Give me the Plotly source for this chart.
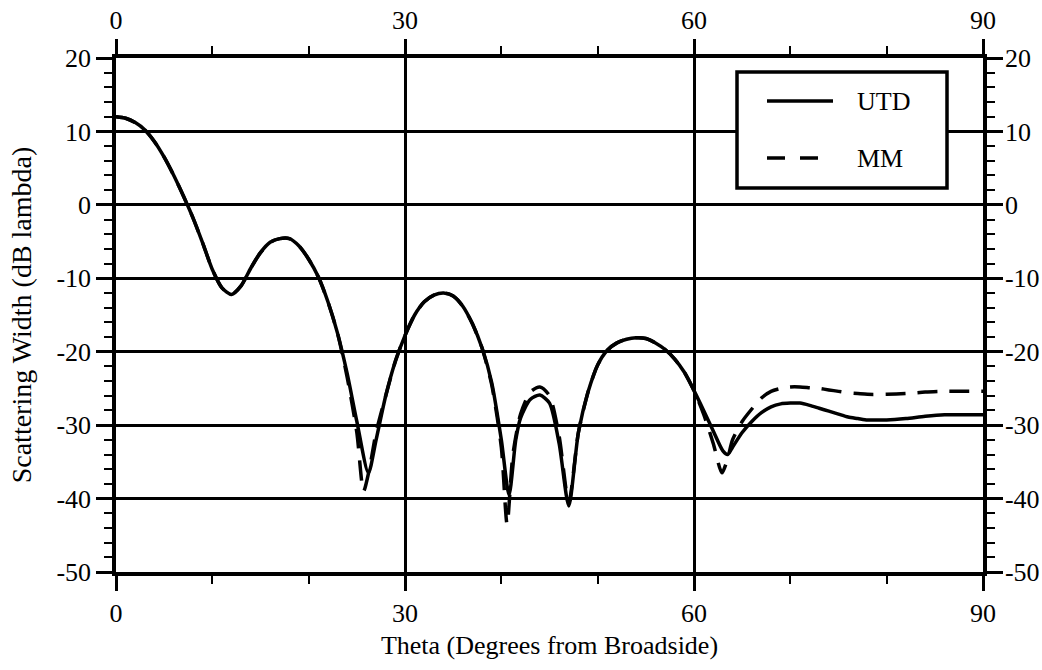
import plotly.graph_objects as go

# ---- data ----
utd_theta = [0, 1, 2, 3, 4, 5, 6, 7, 8, 9, 10, 11, 12, 13, 14, 15, 16, 17, 18, 19,
             20, 21, 22, 23, 24, 25, 26.2, 27, 28, 29, 30, 31, 32, 33, 34, 35, 36,
             37, 38, 39, 40, 40.8, 41.5, 42, 43, 44, 45, 46, 47, 48, 49, 50, 51,
             52, 53, 54, 55, 56, 57, 58, 59, 60, 61, 62, 63, 63.5, 64, 65, 66, 67,
             68, 69, 70, 71, 72, 73, 74, 75, 76, 77, 78, 79, 80, 82, 84, 86, 88, 90]
utd_db = [12.0, 11.8, 11.2, 10.2, 8.6, 6.5, 4.0, 1.2, -1.8, -5.2, -8.8, -11.3, -12.2,
          -11.0, -8.6, -6.5, -5.1, -4.6, -4.6, -5.6, -7.4, -9.8, -13.2, -17.5, -23.0,
          -29.5, -36.5, -32.0, -26.0, -21.3, -17.8, -15.0, -13.2, -12.3, -12.0, -12.4,
          -13.8, -16.2, -19.5, -24.2, -32.0, -39.5, -32.0, -29.0, -26.5, -25.9, -27.0,
          -32.5, -41.0, -31.0, -25.5, -21.8, -19.8, -18.8, -18.3, -18.1, -18.2, -18.8,
          -19.7, -21.0, -22.8, -25.3, -28.0, -30.8, -33.5, -34.0, -33.0, -31.0, -29.5,
          -28.3, -27.5, -27.1, -27.0, -27.0, -27.3, -27.7, -28.1, -28.5, -28.9, -29.1,
          -29.3, -29.3, -29.3, -29.1, -28.8, -28.6, -28.6, -28.6]

mm_theta = [0, 1, 2, 3, 4, 5, 6, 7, 8, 9, 10, 11, 12, 13, 14, 15, 16, 17, 18, 19,
            20, 21, 22, 23, 24, 25, 25.7, 26.3, 27, 28, 29, 30, 31, 32, 33, 34, 35,
            36, 37, 38, 39, 40, 40.6, 41.2, 42, 43, 44, 45, 46, 47, 48, 49, 50, 51,
            52, 53, 54, 55, 56, 57, 58, 59, 60, 61, 62, 62.9, 63.5, 64, 65, 66, 67,
            68, 69, 70, 71, 72, 73, 74, 75, 76, 77, 78, 80, 82, 84, 86, 88, 90]
mm_db = [12.0, 11.8, 11.2, 10.2, 8.6, 6.5, 4.0, 1.2, -1.8, -5.2, -8.8, -11.3, -12.2,
         -11.0, -8.6, -6.5, -5.1, -4.6, -4.6, -5.6, -7.4, -9.8, -13.2, -17.5, -23.5,
         -31.0, -39.0, -36.0, -31.0, -26.0, -21.3, -17.8, -15.0, -13.2, -12.3, -12.0,
         -12.4, -13.8, -16.2, -19.5, -24.5, -33.0, -43.5, -34.0, -28.5, -25.5, -24.8,
         -26.0, -31.5, -40.5, -31.0, -25.5, -21.8, -19.8, -18.8, -18.3, -18.1, -18.2,
         -18.8, -19.7, -21.0, -22.8, -25.3, -28.5, -32.5, -36.5, -34.5, -32.0, -29.5,
         -27.8, -26.3, -25.4, -25.0, -24.8, -24.8, -24.9, -25.0, -25.2, -25.4, -25.6,
         -25.7, -25.8, -25.8, -25.7, -25.5, -25.4, -25.4, -25.4]

x_ticks = [0, 30, 60, 90]
y_ticks = [20, 10, 0, -10, -20, -30, -40, -50]
series_names = ["UTD", "MM"]

FONT = "Liberation Serif"

fig = go.Figure()
fig.add_trace(go.Scatter(x=utd_theta, y=utd_db, name=series_names[0], mode="lines",
                         xaxis="x", yaxis="y",
                         line=dict(color="black", width=3.5, shape="spline", smoothing=0.7),
                         showlegend=False))
fig.add_trace(go.Scatter(x=mm_theta, y=mm_db, name=series_names[1], mode="lines",
                         xaxis="x2", yaxis="y2",
                         line=dict(color="black", width=3.5, dash="20px,12px",
                                   shape="spline", smoothing=0.7),
                         showlegend=False))

tickfont = dict(family=FONT, size=26, color="black")
common_x = dict(range=[0, 90], tickvals=x_ticks, ticktext=[str(v) for v in x_ticks],
                ticks="outside", ticklen=15, tickwidth=2.5, tickcolor="black",
                showline=True, linewidth=3.5, linecolor="black", tickfont=tickfont,
                minor=dict(dtick=10, tick0=0, ticks="outside", ticklen=8, tickwidth=2,
                           tickcolor="black", showgrid=False),
                zeroline=False)
common_y = dict(range=[-50, 20], tickvals=y_ticks, ticktext=[str(v) for v in y_ticks],
                ticks="outside", ticklen=16, tickwidth=2.5, tickcolor="black",
                showline=True, linewidth=3.5, linecolor="black", tickfont=tickfont,
                minor=dict(dtick=2, tick0=0, ticks="outside", ticklen=8, tickwidth=2,
                           tickcolor="black", showgrid=False),
                zeroline=False)

fig.update_layout(
    width=1042, height=670,
    margin=dict(l=116, r=59, t=58, b=98, autoexpand=False),
    paper_bgcolor="white", plot_bgcolor="white",
    font=dict(family=FONT, size=25, color="black"),
    xaxis=dict(**common_x, side="bottom", anchor="y", showgrid=True, gridcolor="black",
               gridwidth=2.5,
               title=dict(text="Theta (Degrees from Broadside)",
                          font=dict(family=FONT, size=26, color="black"), standoff=10)),
    xaxis2=dict(**common_x, side="top", overlaying="x", anchor="y2", matches="x",
                showgrid=False),
    yaxis=dict(**common_y, side="left", anchor="x", showgrid=True, gridcolor="black",
               gridwidth=2.5,
               title=dict(text="Scattering Width (dB lambda)",
                          font=dict(family=FONT, size=28, color="black"), standoff=18)),
    yaxis2=dict(**common_y, side="right", overlaying="y", anchor="x2", matches="y",
                showgrid=False, ticklabelstandoff=-3),
    showlegend=False,
)

# ---- legend box (drawn as decoration in paper coordinates) ----
def px2paper_x(px):
    return (px - 116) / 867.0

def px2paper_y(py):
    return 1 - (py - 58) / 514.0

fig.add_shape(type="rect", xref="paper", yref="paper",
              x0=px2paper_x(737), x1=px2paper_x(947), y0=px2paper_y(188), y1=px2paper_y(72),
              line=dict(color="black", width=3.5), fillcolor="white", layer="above")
fig.add_shape(type="line", xref="paper", yref="paper",
              x0=px2paper_x(767), x1=px2paper_x(833), y0=px2paper_y(101), y1=px2paper_y(101),
              line=dict(color="black", width=3.5), layer="above")
fig.add_shape(type="line", xref="paper", yref="paper",
              x0=px2paper_x(767), x1=px2paper_x(818), y0=px2paper_y(158), y1=px2paper_y(158),
              line=dict(color="black", width=3.5, dash="18px,15px"), layer="above")
for name, py in zip(series_names, [101, 158]):
    fig.add_annotation(xref="paper", yref="paper", x=px2paper_x(855), y=px2paper_y(py),
                       text=name, showarrow=False, xanchor="left", yanchor="middle",
                       font=dict(family=FONT, size=26, color="black"))

fig.write_html("out.html")
